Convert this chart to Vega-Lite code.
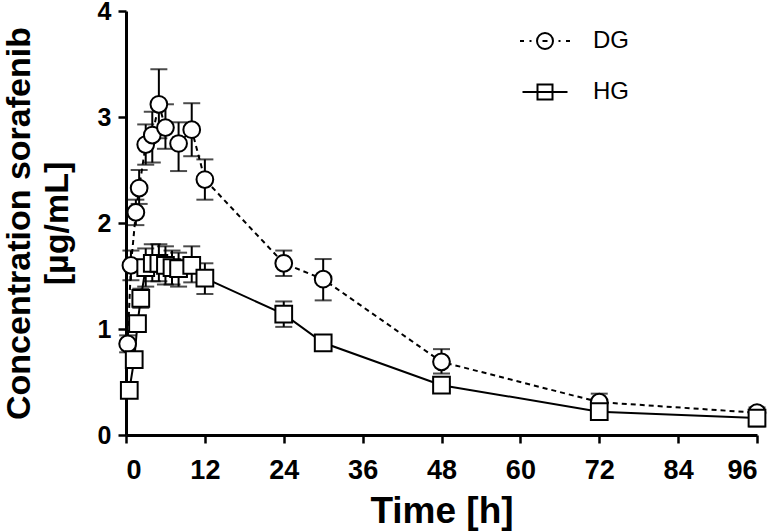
{
  "$schema": "https://vega.github.io/schema/vega-lite/v6.json",
  "width": 631,
  "height": 424,
  "autosize": {"type": "none"},
  "padding": {"left": 126, "top": 11, "right": 17, "bottom": 97},
  "background": "white",
  "config": {
    "view": {"stroke": null},
    "font": "Liberation Sans",
    "axis": {
      "domainColor": "black",
      "domainWidth": 3,
      "tickColor": "black",
      "tickWidth": 2.5,
      "tickSize": 8,
      "grid": false,
      "labelFont": "Liberation Sans Narrow, Liberation Sans",
      "labelFontWeight": "bold",
      "labelFontSize": 27,
      "labelColor": "black",
      "titleFont": "Liberation Sans",
      "titleFontWeight": "bold",
      "titleFontSize": 34,
      "titleColor": "black"
    }
  },
  "data": {
    "values": [
      {"group": "DG", "time": 0.25, "conc": 0.86, "lo": 0.78, "hi": 0.94},
      {"group": "DG", "time": 0.75, "conc": 1.60, "lo": 1.46, "hi": 1.74},
      {"group": "DG", "time": 1.5, "conc": 2.10, "lo": 1.98, "hi": 2.22},
      {"group": "DG", "time": 2, "conc": 2.33, "lo": 2.18, "hi": 2.50},
      {"group": "DG", "time": 3, "conc": 2.74, "lo": 2.55, "hi": 2.93},
      {"group": "DG", "time": 4, "conc": 2.83, "lo": 2.57, "hi": 3.05},
      {"group": "DG", "time": 5, "conc": 3.12, "lo": 2.80, "hi": 3.45},
      {"group": "DG", "time": 6, "conc": 2.90, "lo": 2.70, "hi": 3.12},
      {"group": "DG", "time": 8, "conc": 2.75, "lo": 2.49, "hi": 2.95},
      {"group": "DG", "time": 10, "conc": 2.88, "lo": 2.63, "hi": 3.13},
      {"group": "DG", "time": 12, "conc": 2.41, "lo": 2.22, "hi": 2.60},
      {"group": "DG", "time": 24, "conc": 1.62, "lo": 1.50, "hi": 1.74},
      {"group": "DG", "time": 30, "conc": 1.47, "lo": 1.27, "hi": 1.66},
      {"group": "DG", "time": 48, "conc": 0.69, "lo": 0.58, "hi": 0.81},
      {"group": "DG", "time": 72, "conc": 0.31, "lo": 0.23, "hi": 0.39},
      {"group": "DG", "time": 96, "conc": 0.21, "lo": 0.14, "hi": 0.26},
      {"group": "HG", "time": 0.5, "conc": 0.42, "lo": 0.38, "hi": 0.46},
      {"group": "HG", "time": 1.25, "conc": 0.71, "lo": 0.64, "hi": 0.78},
      {"group": "HG", "time": 1.75, "conc": 1.05, "lo": 0.98, "hi": 1.12},
      {"group": "HG", "time": 2.25, "conc": 1.29, "lo": 1.20, "hi": 1.38},
      {"group": "HG", "time": 3, "conc": 1.58, "lo": 1.40, "hi": 1.76},
      {"group": "HG", "time": 4, "conc": 1.62, "lo": 1.45, "hi": 1.80},
      {"group": "HG", "time": 5, "conc": 1.62, "lo": 1.45, "hi": 1.80},
      {"group": "HG", "time": 6, "conc": 1.60, "lo": 1.42, "hi": 1.78},
      {"group": "HG", "time": 7, "conc": 1.58, "lo": 1.42, "hi": 1.74},
      {"group": "HG", "time": 8, "conc": 1.57, "lo": 1.40, "hi": 1.72},
      {"group": "HG", "time": 10, "conc": 1.60, "lo": 1.44, "hi": 1.78},
      {"group": "HG", "time": 12, "conc": 1.48, "lo": 1.33, "hi": 1.62},
      {"group": "HG", "time": 24, "conc": 1.14, "lo": 1.02, "hi": 1.26},
      {"group": "HG", "time": 30, "conc": 0.87, "lo": 0.83, "hi": 0.91},
      {"group": "HG", "time": 48, "conc": 0.47, "lo": 0.44, "hi": 0.50},
      {"group": "HG", "time": 72, "conc": 0.22, "lo": 0.18, "hi": 0.26},
      {"group": "HG", "time": 96, "conc": 0.16, "lo": 0.08, "hi": 0.22}
    ]
  },
  "encoding": {
    "x": {
      "field": "time", "type": "quantitative",
      "scale": {"domain": [0, 96], "nice": false, "zero": false},
      "axis": {"values": [0, 12, 24, 36, 48, 60, 72, 84, 96], "title": "Time [h]", "titleFontSize": 37, "labelPadding": 14, "titlePadding": 10}
    }
  },
  "layer": [
    {
      "mark": {"type": "rule", "color": "black", "strokeWidth": 2},
      "encoding": {
        "y": {"field": "lo", "type": "quantitative", "scale": {"domain": [0, 4], "nice": false},
          "axis": {"values": [0, 1, 2, 3, 4], "format": "d", "labelFontSize": 25, "title": ["Concentration sorafenib", "[µg/mL]"], "titleLineHeight": 38, "titleAngle": -90, "titleX": -107, "titleY": 212, "titleAlign": "center", "titleBaseline": "middle", "labelPadding": 7}},
        "y2": {"field": "hi"}
      }
    },
    {
      "mark": {"type": "tick", "orient": "horizontal", "color": "black", "size": 17, "thickness": 2},
      "encoding": {"y": {"field": "lo", "type": "quantitative"}}
    },
    {
      "mark": {"type": "tick", "orient": "horizontal", "color": "black", "size": 17, "thickness": 2},
      "encoding": {"y": {"field": "hi", "type": "quantitative"}}
    },
    {
      "transform": [{"filter": "datum.group === 'DG'"}],
      "mark": {"type": "line", "color": "black", "strokeWidth": 2, "strokeDash": [5, 4]},
      "encoding": {"y": {"field": "conc", "type": "quantitative"}}
    },
    {
      "transform": [{"filter": "datum.group === 'HG'"}],
      "mark": {"type": "line", "color": "black", "strokeWidth": 2},
      "encoding": {"y": {"field": "conc", "type": "quantitative"}}
    },
    {
      "transform": [{"filter": "datum.group === 'DG'"}],
      "mark": {"type": "point", "shape": "circle", "filled": true, "fill": "white", "stroke": "black", "strokeWidth": 2, "size": 280, "opacity": 1},
      "encoding": {"y": {"field": "conc", "type": "quantitative"}}
    },
    {
      "transform": [{"filter": "datum.group === 'HG'"}],
      "mark": {"type": "point", "shape": "square", "filled": true, "fill": "white", "stroke": "black", "strokeWidth": 2, "size": 280, "opacity": 1},
      "encoding": {"y": {"field": "conc", "type": "quantitative"}}
    },
    {
      "mark": {"type": "point", "filled": false, "stroke": "black", "strokeWidth": 2, "opacity": 0},
      "encoding": {
        "y": {"field": "conc", "type": "quantitative"},
        "shape": {
          "field": "group", "type": "nominal",
          "scale": {"domain": ["DG", "HG"], "range": [
            "M-1,0L-0.84,0M-0.62,0L-0.54,0M0.54,0L0.62,0M0.84,0L1,0M0.32,0A0.32,0.32 0 1 1 -0.32,0A0.32,0.32 0 1 1 0.32,0M-0.1,0L0.1,0",
            "M-0.9,0L0.9,0M-0.3,-0.3L0.3,-0.3L0.3,0.3L-0.3,0.3Z"
          ]},
          "legend": {
            "title": null,
            "orient": "none",
            "legendX": 393,
            "legendY": 4,
            "symbolSize": 2500,
            "symbolOpacity": 1,
            "symbolStrokeColor": "black",
            "symbolStrokeWidth": 2,
            "labelFontSize": 24,
            "labelFont": "Liberation Sans",
            "labelColor": "black",
            "labelOffset": 22,
            "rowPadding": 13
          }
        }
      }
    }
  ]
}
